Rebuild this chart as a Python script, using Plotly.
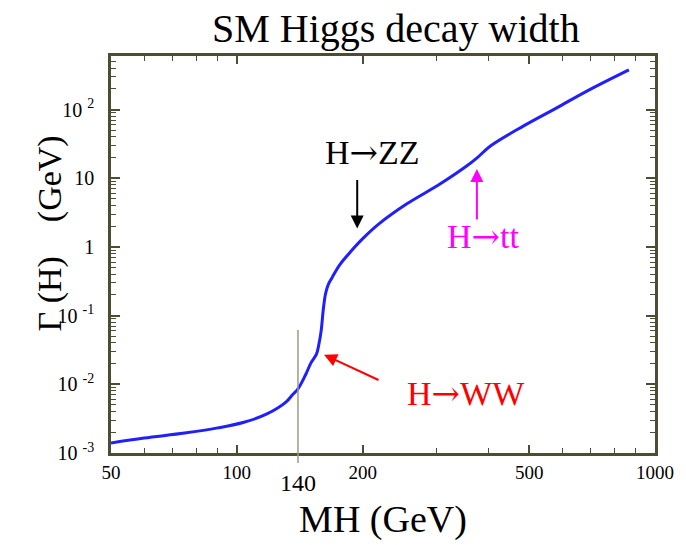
import math
import plotly.graph_objects as go

# ---- data ----
mass_gev = [50, 60, 75, 90, 104, 118, 131, 136, 140, 146, 150.5, 155, 157, 159, 161, 163, 165.5,
            169, 176, 187, 200, 219, 255, 306, 355, 376, 404, 484, 582, 698, 866]
width_gev = [1.40e-3, 1.65e-3, 1.95e-3, 2.32e-3, 2.8e-3, 3.7e-3, 5.5e-3, 7.1e-3, 8.6e-3, 1.38e-2,
             2.07e-2, 2.75e-2, 3.76e-2, 5.9e-2, 0.125, 0.21, 0.285, 0.36, 0.545, 0.85, 1.32,
             2.18, 4.24, 8.24, 15.2, 20.0, 29.5, 57.4, 106, 195, 378]

x_tickvals = [50, 100, 200, 500, 1000]
x_ticktext = ["50", "100", "200", "500", "1000"]
x_minor = [60, 70, 80, 90, 300, 400, 600, 700, 800, 900]

y_tickvals = [1e-3, 1e-2, 1e-1, 1, 10, 100]
y_ticktext = ["10 <sup>-3</sup>", "10 <sup>-2</sup>", "10 <sup>-1</sup>", "1", "10", "10 <sup>2</sup>"]
y_minor = [m * 10 ** e for e in range(-3, 3) for m in range(2, 10)]

marker_mass = 140
marker_top = 0.062

FONT = "Liberation Serif"
ARROW = '<span style="font-family:DejaVu Serif">\u2192</span>'

# annotation arrows: tip (mass, width), tail offset in px, colour, text position (mass, width)
zz = dict(text="H" + ARROW + "ZZ", tip=(194, 1.85), tail=(0, -50), color="black", pos=(211, 24))
tt = dict(text="H" + ARROW + "tt", tip=(375, 13.6), tail=(0, 52), color="#ff00ff", pos=(388, 1.46))
ww = dict(text="H" + ARROW + "WW", tip=(161.6, 0.027), tail=(56, 26), color="#ff0000", pos=(353, 0.0076))

frame = "#4d4d33"

fig = go.Figure()
fig.add_trace(go.Scatter(x=mass_gev, y=width_gev, mode="lines",
                         line=dict(color="#1f1fff", width=3, shape="spline", smoothing=1.0),
                         showlegend=False, hoverinfo="skip"))

fig.add_shape(type="line", xref="x", yref="paper", x0=marker_mass, x1=marker_mass,
              y0=-0.025, y1=(math.log10(marker_top) + 3) / 5.78,
              line=dict(color="#9c9c80", width=1.5))

annotations = []
for a in (zz, tt, ww):
    annotations.append(dict(x=math.log10(a["tip"][0]), y=math.log10(a["tip"][1]),
                            xref="x", yref="y", text="", showarrow=True,
                            ax=a["tail"][0], ay=a["tail"][1], arrowhead=2, arrowsize=1.3,
                            arrowwidth=2, arrowcolor=a["color"], standoff=0))
    annotations.append(dict(x=math.log10(a["pos"][0]), y=math.log10(a["pos"][1]),
                            xref="x", yref="y", text=a["text"], showarrow=False,
                            font=dict(family=FONT, size=34, color=a["color"])))

annotations.append(dict(x=math.log10(marker_mass), y=-0.075, xref="x", yref="paper",
                        text=str(marker_mass), showarrow=False, yanchor="middle",
                        font=dict(family=FONT, size=24, color="black")))
annotations.append(dict(x=-0.151, y=0.5525, xref="paper", yref="paper",
                        text="\u0393 (H)    (GeV)", textangle=-90, showarrow=False,
                        font=dict(family=FONT, size=34, color="black")))

fig.update_layout(
    width=686, height=545,
    margin=dict(l=111, r=31, t=56, b=89),
    paper_bgcolor="white", plot_bgcolor="white",
    title=dict(text="SM Higgs decay width", x=0.577, xref="container", xanchor="center",
               y=1 - 28 / 545, yref="container", yanchor="middle",
               font=dict(family=FONT, size=40, color="black")),
    annotations=annotations,
    showlegend=False,
)

fig.update_xaxes(type="log", range=[math.log10(50), math.log10(1000)],
                 tickmode="array", tickvals=x_tickvals, ticktext=x_ticktext,
                 ticks="inside", ticklen=8, tickwidth=1.5, tickcolor=frame,
                 showline=True, linecolor=frame, linewidth=2.5, mirror="ticks",
                 showgrid=False, zeroline=False,
                 minor=dict(tickmode="array", tickvals=x_minor, ticks="inside",
                            ticklen=5, tickwidth=1.2, tickcolor=frame, showgrid=False),
                 tickfont=dict(family=FONT, size=19, color="black"),
                 ticklabelstandoff=0,
                 title=dict(text="MH (GeV)", standoff=24,
                            font=dict(family=FONT, size=38, color="black")))

fig.update_yaxes(type="log", range=[-3, 2.78],
                 tickmode="array", tickvals=y_tickvals, ticktext=y_ticktext,
                 ticks="inside", ticklen=9, tickwidth=1.5, tickcolor=frame,
                 showline=True, linecolor=frame, linewidth=2.5, mirror="ticks",
                 showgrid=False, zeroline=False,
                 minor=dict(tickmode="array", tickvals=y_minor, ticks="inside",
                            ticklen=5, tickwidth=1.2, tickcolor=frame, showgrid=False),
                 tickfont=dict(family=FONT, size=20, color="black"),
                 ticklabelstandoff=10)

fig.write_html("out.html")
